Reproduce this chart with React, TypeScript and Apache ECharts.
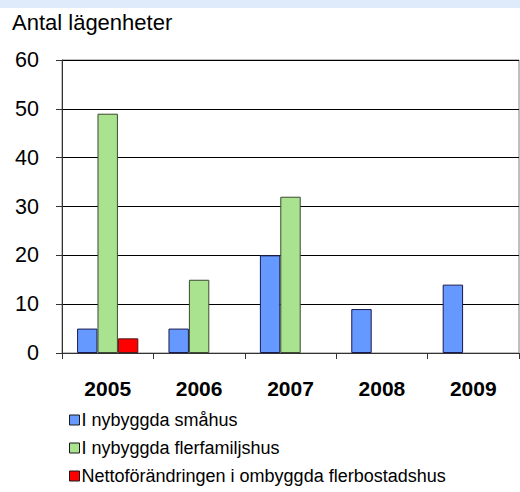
import React, { useEffect, useRef } from "react";
import * as echarts from "echarts";

const years = ["2005", "2006", "2007", "2008", "2009"];
const smahus = [5, 5, 20, 9, 14];
const flerfamiljshus = [49, 15, 32, null, null];
const ombyggda = [3, null, null, null, null];
const seriesNames = [
  "I nybyggda småhus",
  "I nybyggda flerfamiljshus",
  "Nettoförändringen i ombyggda flerbostadshus",
];
const colors = ["#6699ff", "#a9e38f", "#ff0000"];
const borders = ["#1a1a4d", "#3a4a30", "#4d1a1a"];

export default function App() {
  const ref = useRef<HTMLDivElement>(null);
  useEffect(() => {
    const chart = echarts.init(ref.current!, undefined, { renderer: "svg" });
    const font = "Arial, 'Liberation Sans', sans-serif";
    const mk = (i: number, data: (number | null)[]) => ({
      name: seriesNames[i],
      type: "bar",
      data,
      barGap: "0%",
      barCategoryGap: "33%",
      itemStyle: { color: colors[i], borderColor: borders[i], borderWidth: 1 },
    });
    chart.setOption({
      animation: false,
      backgroundColor: "#ffffff",
      textStyle: { fontFamily: font },
      graphic: [
        { type: "rect", left: 0, top: 0, shape: { width: 520, height: 8 }, style: { fill: "#dfeafa" } },
        {
          type: "text",
          left: 12,
          top: 11,
          style: { text: "Antal lägenheter", fontSize: 22, fontFamily: font, fill: "#000" },
        },
      ],
      grid: {
        left: 62,
        right: 1,
        top: 60,
        bottom: 139,
        show: true,
        borderColor: "#808080",
        borderWidth: 1,
      },
      legend: {
        orient: "vertical",
        left: 64,
        top: 406,
        itemWidth: 10,
        itemHeight: 10,
        itemGap: 10,
        icon: "rect",
        data: seriesNames,
        textStyle: { fontSize: 18, color: "#000", fontFamily: font, padding: [0, 0, 0, -3] },
        itemStyle: { borderColor: "#1a1a1a", borderWidth: 1 },
      },
      xAxis: {
        type: "category",
        data: years,
        axisLine: { lineStyle: { color: "#333", width: 1 } },
        axisTick: { show: true, length: 6, lineStyle: { color: "#333" } },
        axisLabel: { fontSize: 21, fontWeight: "bold", color: "#000", margin: 25, fontFamily: font },
      },
      yAxis: {
        type: "value",
        min: 0,
        max: 60,
        interval: 10,
        axisLine: { show: true, lineStyle: { color: "#333", width: 1 } },
        axisTick: { show: true, length: 6, lineStyle: { color: "#333" } },
        axisLabel: { fontSize: 21.5, color: "#000", margin: 23, fontFamily: font },
        splitLine: { lineStyle: { color: "#000", width: 1 } },
      },
      series: [mk(0, smahus), mk(1, flerfamiljshus), mk(2, ombyggda)],
    });
    return () => chart.dispose();
  }, []);
  return (
    <div
      ref={ref}
      style={{ position: "fixed", left: 0, top: 0, width: 520, height: 492 }}
    />
  );
}
